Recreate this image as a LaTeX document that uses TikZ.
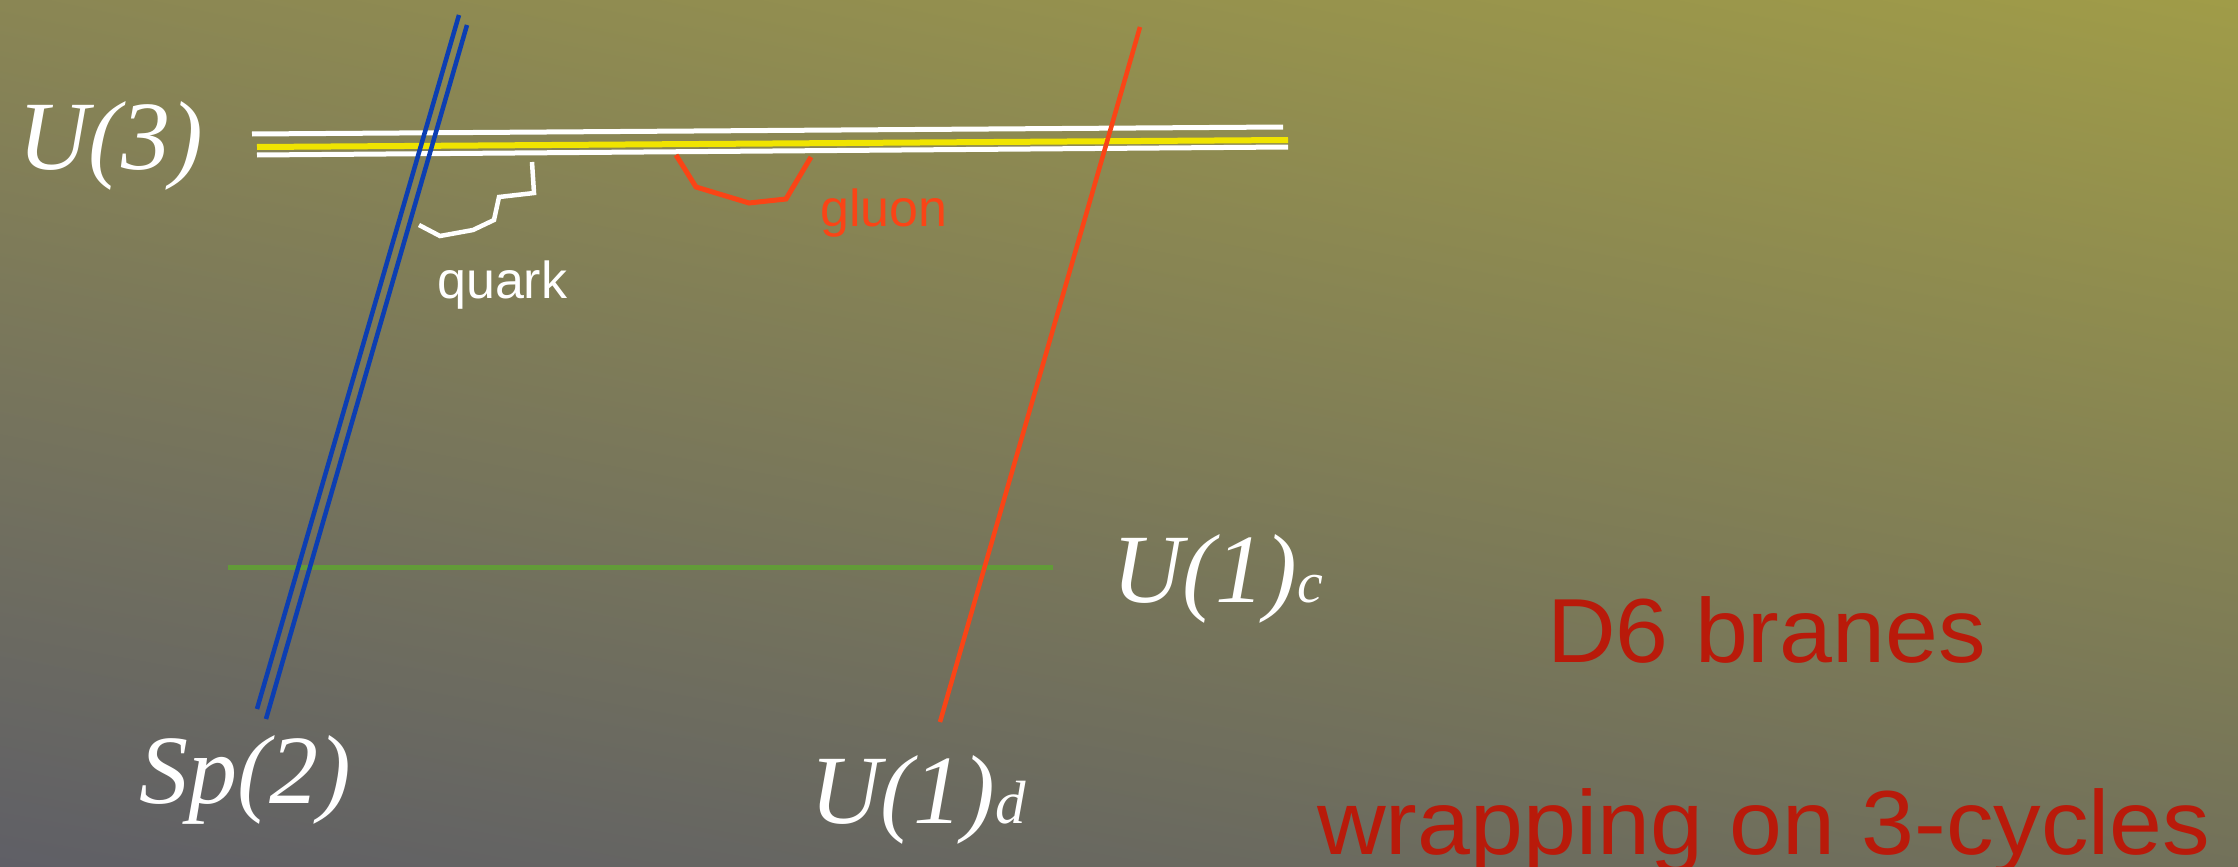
\documentclass[tikz,border=0pt]{standalone}
\usepackage{fontspec}
\setmainfont{Liberation Serif}
\newfontfamily\labelsans{Liberation Sans}
\newfontfamily\widesans[FakeStretch=1.045]{Liberation Sans}
\usetikzlibrary{shadings}
\definecolor{bgUL}{RGB}{138,134,84}
\definecolor{bgUR}{RGB}{160,156,72}
\definecolor{bgLL}{RGB}{95,95,102}
\definecolor{bgLR}{RGB}{114,113,90}
\definecolor{braneblue}{RGB}{12,62,178}
\definecolor{braneorange}{RGB}{250,68,22}
\definecolor{branegreen}{RGB}{98,155,56}
\definecolor{braneyellow}{RGB}{240,228,0}
\definecolor{titlered}{RGB}{185,26,10}
\begin{document}
\begin{tikzpicture}[x=1pt,y=-1pt,
  ital/.style={font=\fontsize{98}{100}\selectfont\itshape, text=white, inner sep=0pt, anchor=base west},
  smalltext/.style={font=\labelsans\fontsize{52}{54}\selectfont, inner sep=0pt, anchor=base west},
  bigtext/.style={font=\widesans\fontsize{91}{94}\selectfont, text=titlered, inner sep=0pt, anchor=base west},
  whitebrane/.style={draw=white, line width=5pt},
  yellowbrane/.style={draw=braneyellow, line width=6pt},
  bluebrane/.style={draw=braneblue, line width=4.5pt},
  orangebrane/.style={draw=braneorange, line width=4.5pt},
  greenbrane/.style={draw=branegreen, line width=5pt},
  stringpath/.style={line width=4.5pt}]
\useasboundingbox (0,0) rectangle (2238,867);
\shade[upper left=bgUL, upper right=bgUR, lower left=bgLL, lower right=bgLR] (0,0) rectangle (2238,867);

% U(3) stack
\coordinate (w1a) at (252,134); \coordinate (w1b) at (1283,127);
\coordinate (ya) at (257,147);  \coordinate (yb) at (1288,140);
\coordinate (w2a) at (257,155); \coordinate (w2b) at (1288,147);
\draw[whitebrane] (w1a) -- (w1b);
\draw[yellowbrane] (ya) -- (yb);
\draw[whitebrane] (w2a) -- (w2b);

% U(1)c green
\coordinate (ga) at (228,567); \coordinate (gb) at (1053,567);
\draw[greenbrane] (ga) -- (gb);

% Sp(2) blue pair
\coordinate (b1t) at (459,15); \coordinate (b1b) at (257,709);
\coordinate (b2t) at (467,25); \coordinate (b2b) at (266,719);
\draw[bluebrane] (b1t) -- (b1b);
\draw[bluebrane] (b2t) -- (b2b);

% U(1)d orange
\coordinate (ot) at (1140,27); \coordinate (ob) at (940,722);
\draw[orangebrane] (ot) -- (ob);

% quark string
\draw[white, stringpath] (532,162) -- (534,193) -- (499,197) -- (494,220) -- (473,230) -- (440,236) -- (419,225);
% gluon string
\draw[braneorange, line width=5pt] (676,155) -- (696,187) -- (749,203) -- (786,199) -- (811,157);

% labels
\node[ital] (lu3) at (18,169) {U(3)};
\node[ital] (lsp2) at (139,803) {Sp(2)};
\node[ital] (lu1c) at (1112,602) {U(1){\fontsize{58}{60}\selectfont c}};
\node[ital] (lu1d) at (810,823) {U(1){\fontsize{61}{63}\selectfont d}};
\node[smalltext, text=white] (lquark) at (437,298) {quark};
\node[smalltext, text=braneorange] (lgluon) at (820,226) {gluon};
\node[bigtext] (ld6) at (1547,662) {D6 branes};
\node[bigtext] (lwrap) at (1317,854) {wrapping on 3-cycles};
\end{tikzpicture}
\end{document}
